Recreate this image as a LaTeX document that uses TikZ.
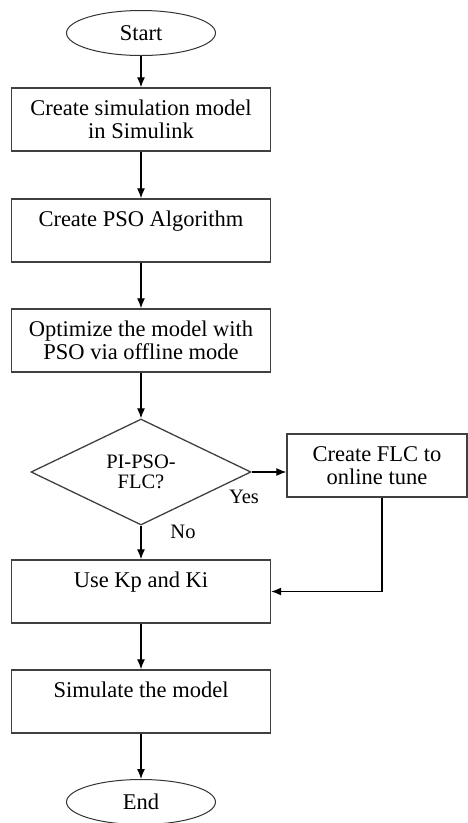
\documentclass[tikz,border=0pt]{standalone}
\usepackage{fontspec}
\setmainfont{Liberation Serif}
\usetikzlibrary{shapes.geometric, arrows.meta, positioning}
\tikzstyle{block} = [draw=black!75, line width=1.4pt, rectangle, minimum width=259pt, minimum height=63pt, inner sep=0pt, align=center, font=\fontsize{22.5}{23}\selectfont]
\tikzstyle{term} = [draw=black!80, line width=1pt, ellipse, minimum width=149pt, minimum height=45pt, inner sep=0pt, font=\fontsize{22.5}{23}\selectfont]
\tikzstyle{decision} = [draw=black!75, line width=1.3pt, diamond, minimum width=220pt, minimum height=106pt, inner sep=0pt, align=center, font=\fontsize{20.5}{20}\selectfont]
\tikzstyle{tag} = [inner sep=0pt, font=\fontsize{20.5}{20}\selectfont]

\begin{document}
\begin{tikzpicture}[x=1pt, y=-1pt, >={Latex[length=10pt,width=8pt]}, line width=1.2pt]
    \useasboundingbox (0,0) rectangle (468,823);
    \node [term] (start) at (141,33) {Start};
    \node [block] (create) at (141,119.5) {Create simulation model\\in Simulink};
    \node [block] (pso) at (141,230.5) {Create PSO Algorithm\\\mbox{}};
    \node [block] (optim) at (141,340.5) {Optimize the model with\\PSO via offline mode};
    \node [decision] (dec) at (141,472) {PI-PSO-\\FLC?};
    \node [block, minimum width=180pt] (flc) at (377,465.5) {Create FLC to\\online tune};
    \node [block] (usek) at (141,591.5) {Use Kp and Ki\\\mbox{}};
    \node [block] (simul) at (141,701.5) {Simulate the model\\\mbox{}};
    \node [term] (stop) at (141,802) {End};
    \node [tag] (yes) at (244,497) {Yes};
    \node [tag] (no) at (183,532) {No};

    \draw [->] (start) -- (create);
    \draw [->] (create) -- (pso);
    \draw [->] (pso) -- (optim);
    \draw [->] (optim) -- (dec);
    \draw [->] (dec.east) -- (dec.east -| flc.west);
    \draw [->] (dec) -- (usek);
    \draw [->] ([xshift=5pt]flc.south) |- (usek.east);
    \draw [->] (usek) -- (simul);
    \draw [->] (simul) -- (stop);
\end{tikzpicture}
\end{document}
